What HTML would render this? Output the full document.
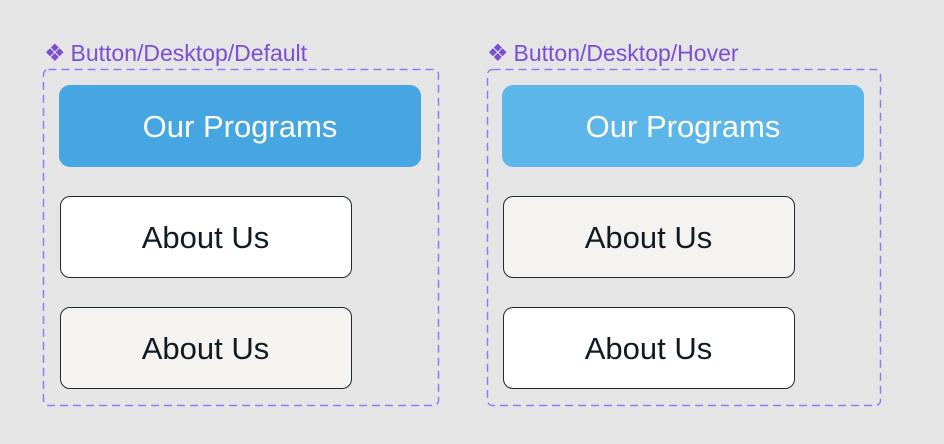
<!DOCTYPE html>
<html><head><style>
html,body{margin:0;padding:0}
body{width:944px;height:444px;background:#e5e5e5;position:relative;overflow:hidden;font-family:"Liberation Sans",sans-serif}
.lbl{position:absolute;top:40px;font-size:23px;color:#7b4fd4;white-space:nowrap;display:flex;align-items:center}
.lbl span{font-size:24px;margin-right:5px;line-height:1}
.b{position:absolute;display:flex;align-items:center;justify-content:center;box-sizing:border-box;font-size:31px;padding-top:2px}
.blue{height:82px;width:362px;border-radius:11px;color:#fff;top:85px}
.w{height:82px;width:292px;border-radius:10px;border:1.3px solid #1f2b30;color:#0e1b22}
svg{position:absolute;left:0;top:0}
</style></head><body>
<svg width="944" height="444"><g fill="none" stroke="#8f7cf0" stroke-width="1.5" stroke-dasharray="8 5">
<rect x="43.5" y="69.5" width="395" height="336" rx="5"/>
<rect x="487.5" y="69.5" width="393" height="336" rx="5"/>
</g></svg>
<div class="lbl" style="left:44px"><span>❖</span>Button/Desktop/Default</div>
<div class="lbl" style="left:487px"><span>❖</span>Button/Desktop/Hover</div>
<div class="b blue" style="left:59px;background:#46a6e2">Our Programs</div>
<div class="b w" style="left:59.5px;top:195.5px;background:#fff">About Us</div>
<div class="b w" style="left:59.5px;top:306.5px;background:#f5f3ef">About Us</div>
<div class="b blue" style="left:502px;background:#5db6ea">Our Programs</div>
<div class="b w" style="left:502.5px;top:195.5px;background:#f5f3ef">About Us</div>
<div class="b w" style="left:502.5px;top:306.5px;background:#fff">About Us</div>
</body></html>
